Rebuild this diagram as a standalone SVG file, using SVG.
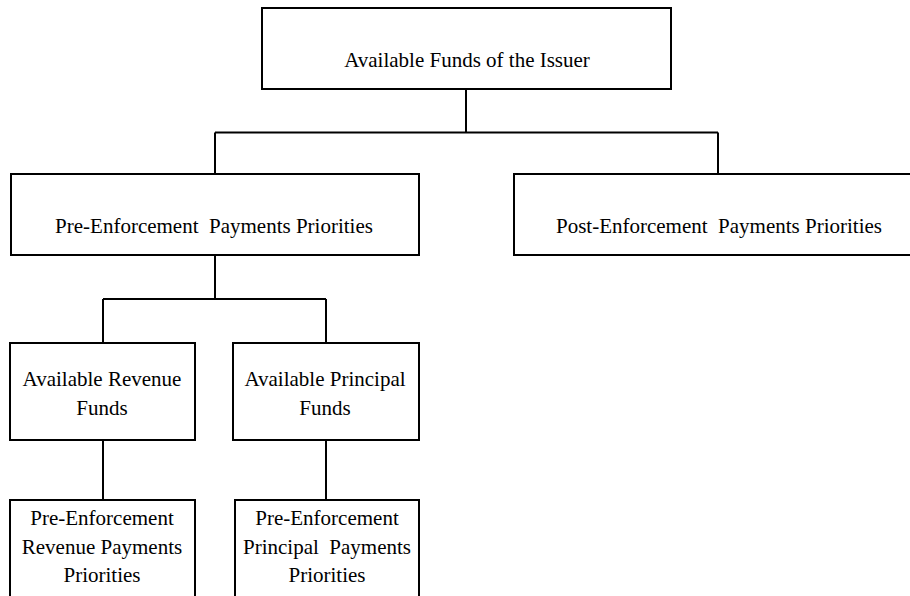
<svg xmlns="http://www.w3.org/2000/svg" width="910" height="596" viewBox="0 0 910 596">
<style>
.box{fill:#fff;stroke:#000;stroke-width:2}
.con{fill:none;stroke:#000;stroke-width:2}
text{font-family:"Liberation Serif","Times New Roman",serif;font-size:21px;fill:#000;text-anchor:middle}
</style>
<rect width="910" height="596" fill="#fff"/>
<g id="connectors">
<path class="con" d="M466 89V132.5M215 132.5H718M215 132.5V174M718 132.5V174"/>
<path class="con" d="M215 255V299M103 299H326M103 299V343M326 299V343"/>
<path class="con" d="M103 440V500M326 440V500"/>
</g>
<g id="n-issuer">
<rect class="box" x="262" y="8" width="409" height="81"/>
<text x="467" y="67">Available Funds of the Issuer</text>
</g>
<g id="n-pre">
<rect class="box" x="11" y="174" width="408" height="81"/>
<text x="214" y="233" xml:space="preserve">Pre-Enforcement  Payments Priorities</text>
</g>
<g id="n-post">
<rect class="box" x="514" y="174" width="411" height="81"/>
<text x="719" y="233" xml:space="preserve">Post-Enforcement  Payments Priorities</text>
</g>
<g id="n-avail-rev">
<rect class="box" x="10" y="343" width="185" height="97"/>
<text x="102" y="386">Available Revenue</text>
<text x="102" y="415">Funds</text>
</g>
<g id="n-avail-prin">
<rect class="box" x="233" y="343" width="186" height="97"/>
<text x="325" y="386">Available Principal</text>
<text x="325" y="415">Funds</text>
</g>
<g id="n-pre-rev">
<rect class="box" x="10" y="500" width="185" height="110"/>
<text x="102" y="525">Pre-Enforcement</text>
<text x="102" y="554">Revenue Payments</text>
<text x="102" y="582">Priorities</text>
</g>
<g id="n-pre-prin">
<rect class="box" x="235" y="500" width="184" height="110"/>
<text x="327" y="525">Pre-Enforcement</text>
<text x="327" y="554" xml:space="preserve">Principal  Payments</text>
<text x="327" y="582">Priorities</text>
</g>
</svg>
